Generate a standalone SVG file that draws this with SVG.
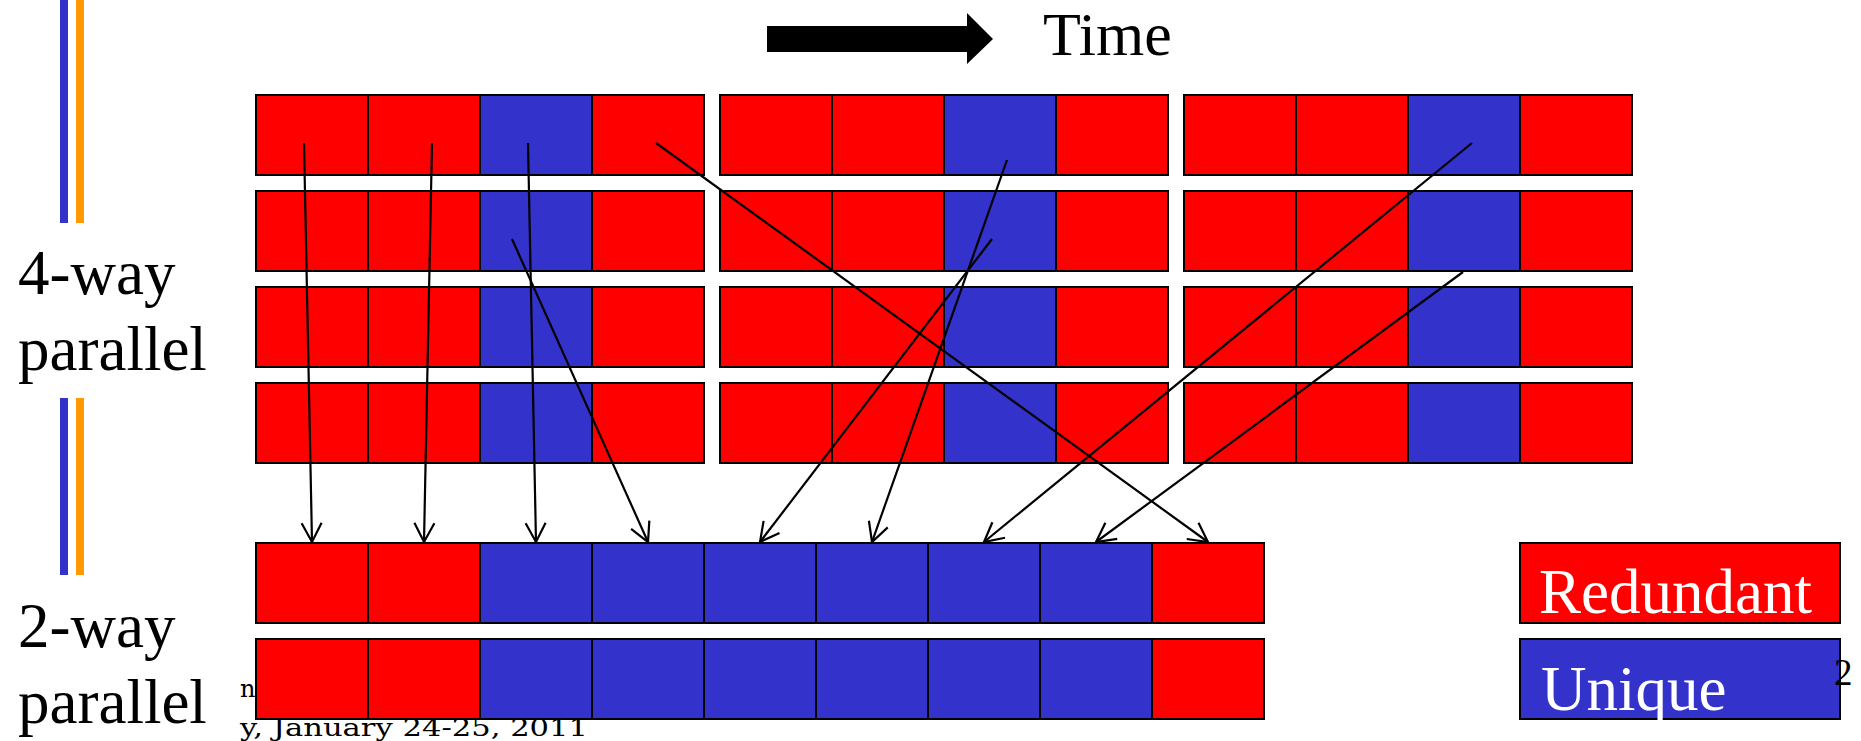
<svg xmlns="http://www.w3.org/2000/svg" xmlns:xlink="http://www.w3.org/1999/xlink" width="1861" height="741" viewBox="0 0 1861 741">
<style>
.r{fill:#ff0000;stroke:#000;stroke-width:2}
.b{fill:#3333cc;stroke:#000;stroke-width:2}
.lbl{font-family:"Liberation Serif","Times New Roman",serif;font-size:63px;fill:#000}
.leg{font-family:"Liberation Serif","Times New Roman",serif;font-size:63px;fill:#fff}
.foot{font-family:"DejaVu Serif","Liberation Serif",serif;font-size:24px;fill:#000}
.conn line{stroke:#000;stroke-width:2.2;fill:none;marker-end:url(#arr)}
</style>
<defs>
<marker id="arr" viewBox="-22 -12 26 24" markerWidth="26" markerHeight="24" refX="0" refY="0" orient="auto" markerUnits="userSpaceOnUse">
<path d="M-19,-10 L0,0 L-19,10" fill="none" stroke="#000" stroke-width="2.2"/>
</marker>
<g id="row4">
<rect class="r" x="0" y="0" width="112" height="80"/>
<rect class="r" x="112" y="0" width="112" height="80"/>
<rect class="b" x="224" y="0" width="112" height="80"/>
<rect class="r" x="336" y="0" width="112" height="80"/>
</g>
<g id="row9">
<rect class="r" x="0" y="0" width="112" height="80"/>
<rect class="r" x="112" y="0" width="112" height="80"/>
<rect class="b" x="224" y="0" width="112" height="80"/>
<rect class="b" x="336" y="0" width="112" height="80"/>
<rect class="b" x="448" y="0" width="112" height="80"/>
<rect class="b" x="560" y="0" width="112" height="80"/>
<rect class="b" x="672" y="0" width="112" height="80"/>
<rect class="b" x="784" y="0" width="112" height="80"/>
<rect class="r" x="896" y="0" width="112" height="80"/>
</g>
</defs>
<rect width="1861" height="741" fill="#fff"/>

<g id="deco-bars">
<rect x="60" y="0" width="8" height="223" fill="#3333cc"/>
<rect x="76" y="0" width="8" height="223" fill="#ff9900"/>
<rect x="60" y="398" width="8" height="177" fill="#3333cc"/>
<rect x="76" y="398" width="8" height="177" fill="#ff9900"/>
</g>

<g id="time-arrow">
<polygon points="767,26 967,26 967,13 993,39 967,64 967,52 767,52" fill="#000"/>
<text class="lbl" x="1043" y="55" style="font-size:62px">Time</text>
</g>

<g id="label-4way">
<text class="lbl" x="18" y="294">4-way</text>
<text class="lbl" x="18" y="370">parallel</text>
</g>
<g id="label-2way">
<text class="lbl" x="18" y="647">2-way</text>
<text class="lbl" x="18" y="723">parallel</text>
</g>

<g id="footer">
<text class="foot" x="240" y="697">n</text>
<text class="foot" x="240" y="736" textLength="348" lengthAdjust="spacingAndGlyphs">y, January 24-25, 2011</text>
</g>

<g id="b1r1"><use xlink:href="#row4" x="256" y="95"/></g>
<g id="b1r2"><use xlink:href="#row4" x="256" y="191"/></g>
<g id="b1r3"><use xlink:href="#row4" x="256" y="287"/></g>
<g id="b1r4"><use xlink:href="#row4" x="256" y="383"/></g>
<g id="b2r1"><use xlink:href="#row4" x="720" y="95"/></g>
<g id="b2r2"><use xlink:href="#row4" x="720" y="191"/></g>
<g id="b2r3"><use xlink:href="#row4" x="720" y="287"/></g>
<g id="b2r4"><use xlink:href="#row4" x="720" y="383"/></g>
<g id="b3r1"><use xlink:href="#row4" x="1184" y="95"/></g>
<g id="b3r2"><use xlink:href="#row4" x="1184" y="191"/></g>
<g id="b3r3"><use xlink:href="#row4" x="1184" y="287"/></g>
<g id="b3r4"><use xlink:href="#row4" x="1184" y="383"/></g>

<g id="two-way-r1"><use xlink:href="#row9" x="256" y="543"/></g>
<g id="two-way-r2"><use xlink:href="#row9" x="256" y="639"/></g>

<g id="legend-redundant">
<rect class="r" x="1520" y="543" width="320" height="80"/>
<text class="leg" x="1539" y="613">Redundant</text>
</g>
<g id="legend-unique">
<rect class="b" x="1520" y="639" width="320" height="80"/>
<text class="leg" x="1541" y="710">Unique</text>
</g>

<g id="page-number">
<text class="lbl" x="1834" y="685" style="font-size:37px">2</text>
</g>

<g id="connectors" class="conn">
<line x1="304" y1="143" x2="312" y2="542"/>
<line x1="432" y1="143" x2="424" y2="542"/>
<line x1="528" y1="143" x2="536" y2="542"/>
<line x1="512" y1="239" x2="648" y2="542"/>
<line x1="992" y1="239" x2="760" y2="542"/>
<line x1="1007" y1="160" x2="872" y2="542"/>
<line x1="1472" y1="143" x2="984" y2="542"/>
<line x1="1463" y1="272" x2="1096" y2="542"/>
<line x1="656" y1="143" x2="1208" y2="542"/>
</g>
</svg>
